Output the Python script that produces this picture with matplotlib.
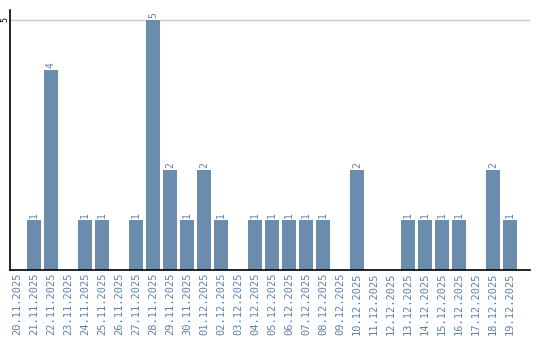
import matplotlib
matplotlib.use('Agg')
import matplotlib.pyplot as plt

# daily counts
dates = ['20.11.2025', '21.11.2025', '22.11.2025', '23.11.2025', '24.11.2025',
         '25.11.2025', '26.11.2025', '27.11.2025', '28.11.2025', '29.11.2025',
         '30.11.2025', '01.12.2025', '02.12.2025', '03.12.2025', '04.12.2025',
         '05.12.2025', '06.12.2025', '07.12.2025', '08.12.2025', '09.12.2025',
         '10.12.2025', '11.12.2025', '12.12.2025', '13.12.2025', '14.12.2025',
         '15.12.2025', '16.12.2025', '17.12.2025', '18.12.2025', '19.12.2025']
counts = [0, 1, 4, 0, 1, 1, 0, 1, 5, 2,
          1, 2, 1, 0, 1, 1, 1, 1, 1, 0,
          2, 0, 0, 1, 1, 1, 1, 0, 2, 1]

bar_color = '#6a8cad'
label_color = '#5f82a8'

fig = plt.figure(figsize=(5.4, 3.4), dpi=100)
ax = fig.add_axes([10/540, 1 - 270/340, 520/540, 260/340])

x = range(len(dates))
ax.bar(x, counts, width=0.82, color=bar_color, zorder=2)

# value labels above bars
for xi, c in zip(x, counts):
    if c > 0:
        ax.text(xi, c + 0.04, str(c), rotation=90, ha='center', va='bottom',
                fontsize=7, color=label_color, family='DejaVu Sans Mono')

ax.set_xlim(-0.41, 30.18)
ax.set_ylim(0, 5.2)
ax.set_xticks(list(x))
ax.set_xticklabels(dates, rotation=90, fontsize=7.5, color=label_color,
                   family='DejaVu Sans Mono')
ax.set_yticks([5])
ax.set_yticklabels(['5'], rotation=90, fontsize=6, va='center',
                   family='DejaVu Sans Mono')
ax.tick_params(axis='x', length=0, pad=2)
ax.tick_params(axis='y', length=0, pad=0.5)
ax.yaxis.grid(True, color='#c8c8c8', linewidth=1, zorder=1)

for s in ['top', 'right']:
    ax.spines[s].set_visible(False)
ax.spines['left'].set_linewidth(1.2)
ax.spines['bottom'].set_linewidth(1.2)

fig.savefig('out.png', dpi=100)
